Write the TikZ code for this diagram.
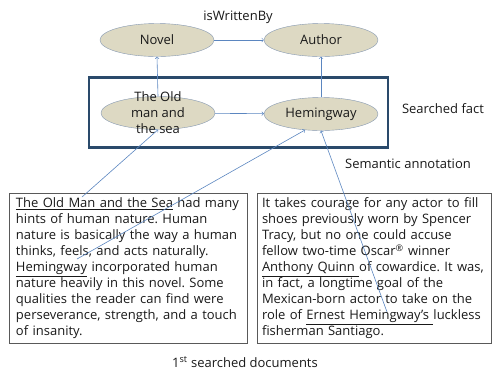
\documentclass[tikz,border=0pt]{standalone}
\usepackage{fontspec}
\setmainfont{Open Sans}
\usetikzlibrary{shapes.geometric}
\definecolor{tanfill}{HTML}{DDD9C3}
\definecolor{ellline}{HTML}{8497B0}
\definecolor{linkblue}{HTML}{5B86C0}
\definecolor{factblue}{HTML}{2A4A6B}
\frenchspacing
\begin{document}
\begin{tikzpicture}[x=1pt,y=-1pt]
          \useasboundingbox (0,0) rectangle (492,376);
          \tikzstyle{every node}=[font=\fontsize{13}{16}\selectfont,text=black!90];
          \tikzstyle{concept}=[draw=ellline,fill=tanfill,shape=ellipse,
            minimum width=114pt,minimum height=33pt,inner sep=0pt,align=center];
          \tikzstyle{doc}=[draw=black!65,thick,align=left,inner xsep=7pt,inner ysep=0pt,
            minimum height=150pt,text width=224pt];
          \tikzstyle{link}=[draw=linkblue,->,semithick];
          % concepts
          \node[concept] (novel) at (157,40) {Novel};
          \node[concept] (author) at (321,40) {Author};
          \node[draw=none] (rel) at (238,17) {isWrittenBy};
          % searched fact
          \node[draw=factblue,line width=2.2pt,minimum width=299pt,minimum height=70pt]
            (fact) at (238.5,112.5) {};
          \node[concept] (oldman) at (158,113)
            {\smash{\raisebox{-4.5pt}{\begin{tabular}{@{}c@{}}The Old\\man and\\the sea\end{tabular}}}};
          \node[concept] (hem) at (321,114) {Hemingway};
          \node (factlabel) at (443,109) {Searched fact};
          \node (annlabel) at (408,164) {Semantic annotation};
          % documents
          \node[doc] (doc1) at (128,268)
            {\underline{The Old Man and the Sea} had many\\
             hints of human nature. Human\\
             nature is basically the way a human\\
             thinks, feels, and acts naturally.\\
             \underline{Hemingway} incorporated human\\
             nature heavily in this novel. Some\\
             qualities the reader can find were\\
             perseverance, strength, and a touch\\
             of insanity.};
          \node[doc,inner xsep=5pt] (doc2) at (374,268)
            {It takes courage for any actor to fill\\
             shoes previously worn by Spencer\\
             Tracy, but no one could accuse\\
             fellow two-time Oscar\textsuperscript{®} winner\\
             \underline{Anthony Quinn\ }of cowardice. It was,\\
             in fact, a longtime goal of the\\
             Mexican-born actor to take on the\\
             role of \underline{Ernest Hemingway's\ }luckless\\
             fisherman Santiago.};
          \node (caption) at (245,362) {1\textsuperscript{st} searched documents};
          % anchors of the annotations
          \coordinate (t1) at (82,197);
          \coordinate (t2) at (77,259);
          \coordinate (t3) at (387,312);
          \draw[link] (novel)--(author);
          \draw[link] (oldman)--(hem);
          \draw[link] (oldman.north)--(novel.south);
          \draw[link] (hem.north)--(author.south);
          \draw[link] (t1)--(oldman.south);
          \draw[link] (t2)--(hem.-135);
          \draw[link] (t3)--(hem.south);
      \end{tikzpicture}
\end{document}
